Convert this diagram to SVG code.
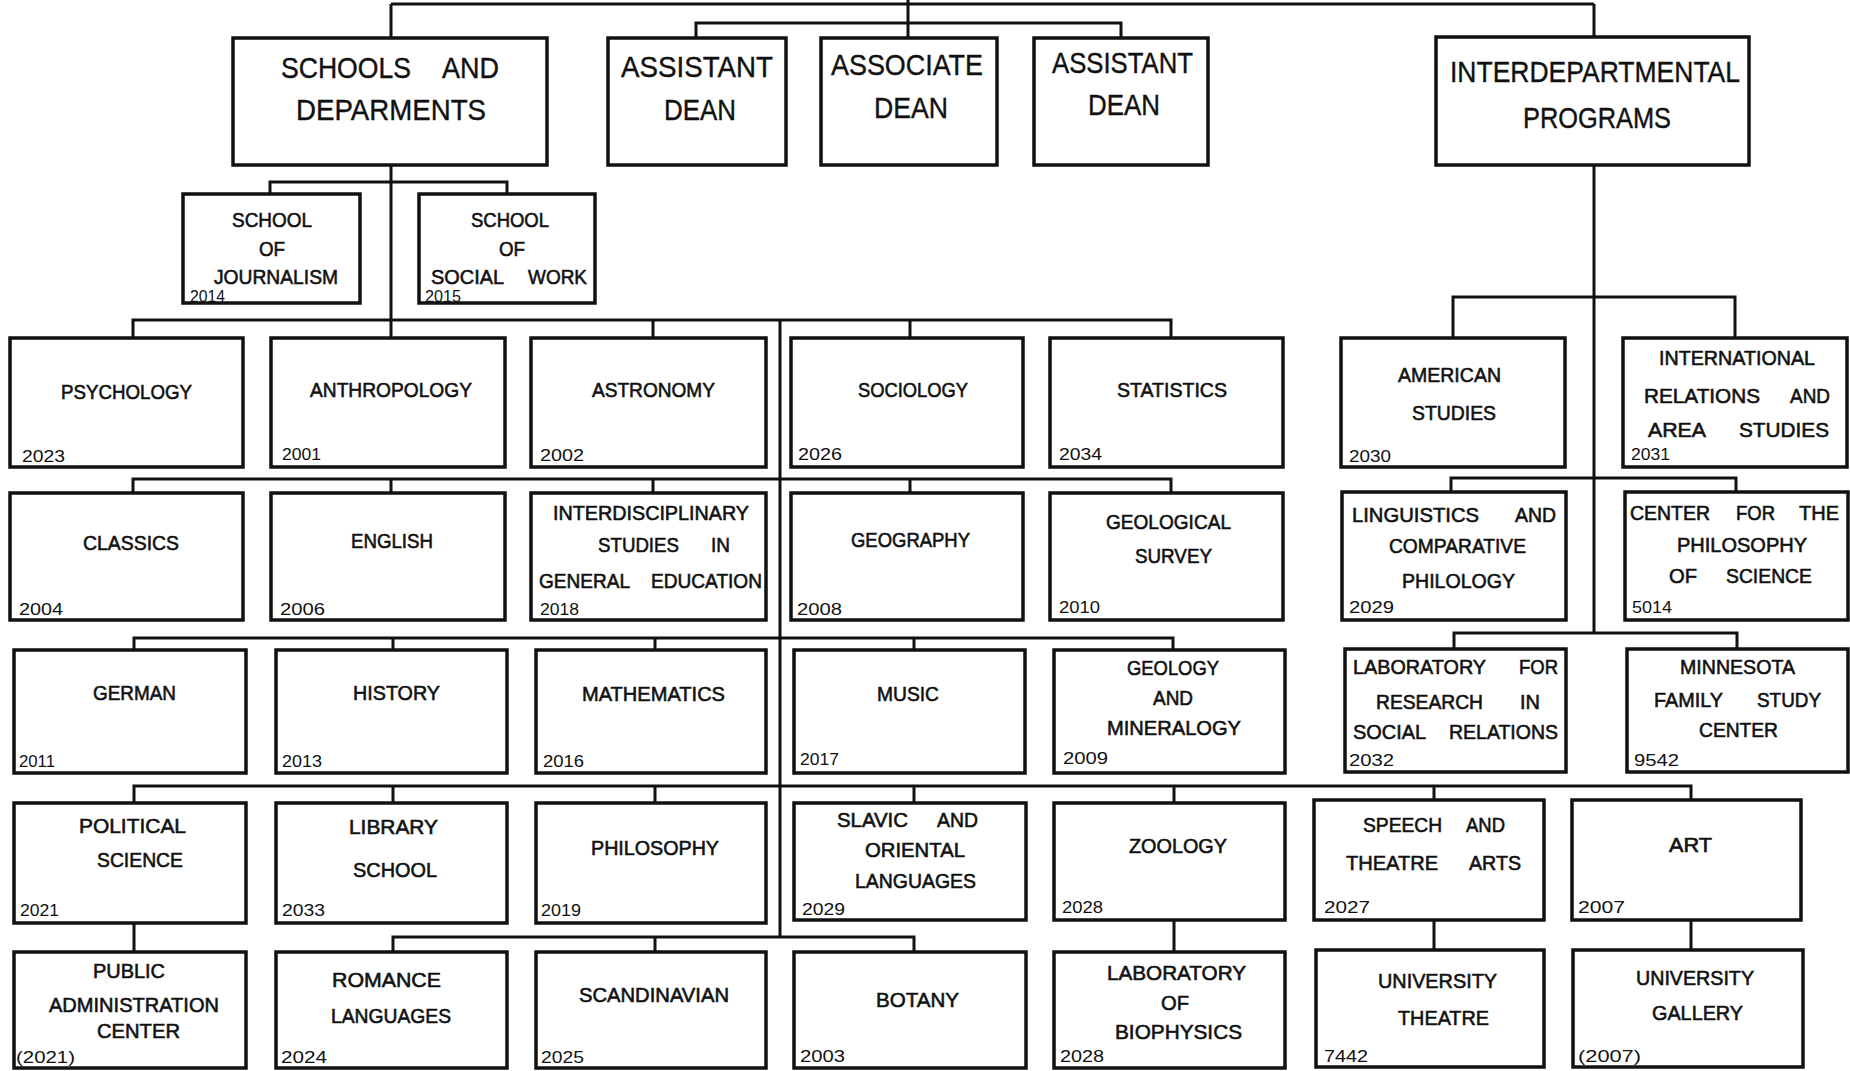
<svg xmlns="http://www.w3.org/2000/svg" width="1850" height="1071" viewBox="0 0 1850 1071">
<style>
.b{fill:#fff;stroke:#111;stroke-width:3.5}
.c{fill:none;stroke:#111;stroke-width:3}
text{font-family:"Liberation Sans",Arial,sans-serif;fill:#111}
.l{font-size:21px;stroke:#111;stroke-width:0.6}
.h{font-size:30px;stroke:#111;stroke-width:0.4}
.n{font-size:16px}
</style>
<rect width="1850" height="1071" fill="#fff"/>
<g id="connectors">
<path class="c" d="M391,4 H1594 M908,0 V38 M696,38 V23 H1121 V38 M391,4 V38 M1594,4 V37"/>
<path class="c" d="M391,165 V338 M270,194 V182 H507 V194"/>
<path class="c" d="M133,338 V320 H1171 V338 M653,320 V338 M910,320 V338 M780,320 V937"/>
<path class="c" d="M133,493 V479 H1171 V493 M391,479 V493 M653,479 V493 M910,479 V493"/>
<path class="c" d="M134,650 V638 H1173 V650 M393,638 V650 M655,638 V650 M914,638 V650"/>
<path class="c" d="M134,803 V786 H1691 V800 M393,786 V803 M655,786 V803 M914,786 V803 M1174,786 V803 M1434,786 V800"/>
<path class="c" d="M393,952 V937 H914 V952 M655,937 V952"/>
<path class="c" d="M134,923 V952 M1174,920 V952 M1434,920 V950 M1691,920 V950"/>
<path class="c" d="M1594,165 V633 M1453,338 V297 H1735 V338 M1451,492 V478 H1736 V492 M1454,649 V633 H1737 V649"/>
</g>

<g id="schools"><rect class="b" x="233" y="38" width="314" height="127"/>
<text class="h" x="281" y="78" textLength="130" lengthAdjust="spacingAndGlyphs">SCHOOLS</text>
<text class="h" x="442" y="78" textLength="57" lengthAdjust="spacingAndGlyphs">AND</text>
<text class="h" x="296" y="120" textLength="190" lengthAdjust="spacingAndGlyphs">DEPARMENTS</text></g>

<g id="asst1"><rect class="b" x="608" y="38" width="178" height="127"/>
<text class="h" x="621" y="77" textLength="152" lengthAdjust="spacingAndGlyphs">ASSISTANT</text>
<text class="h" x="664" y="120" textLength="72" lengthAdjust="spacingAndGlyphs">DEAN</text></g>

<g id="assoc"><rect class="b" x="821" y="38" width="176" height="127"/>
<text class="h" x="831" y="75" textLength="152" lengthAdjust="spacingAndGlyphs">ASSOCIATE</text>
<text class="h" x="874" y="118" textLength="74" lengthAdjust="spacingAndGlyphs">DEAN</text></g>

<g id="asst2"><rect class="b" x="1034" y="38" width="174" height="127"/>
<text class="h" x="1052" y="73" textLength="141" lengthAdjust="spacingAndGlyphs">ASSISTANT</text>
<text class="h" x="1088" y="115" textLength="72" lengthAdjust="spacingAndGlyphs">DEAN</text></g>

<g id="interdept"><rect class="b" x="1436" y="37" width="313" height="128"/>
<text class="h" x="1450" y="82" textLength="290" lengthAdjust="spacingAndGlyphs">INTERDEPARTMENTAL</text>
<text class="h" x="1523" y="128" textLength="148" lengthAdjust="spacingAndGlyphs">PROGRAMS</text></g>

<g id="journalism"><rect class="b" x="183" y="194" width="177" height="109"/>
<text class="l" x="232" y="227" textLength="80" lengthAdjust="spacingAndGlyphs">SCHOOL</text>
<text class="l" x="259" y="256" textLength="26" lengthAdjust="spacingAndGlyphs">OF</text>
<text class="l" x="214" y="284" textLength="124" lengthAdjust="spacingAndGlyphs">JOURNALISM</text>
<text class="n" x="190" y="301.5" font-size="14" textLength="35" lengthAdjust="spacingAndGlyphs">2014</text></g>

<g id="socialwork"><rect class="b" x="419" y="194" width="176" height="109"/>
<text class="l" x="471" y="227" textLength="78" lengthAdjust="spacingAndGlyphs">SCHOOL</text>
<text class="l" x="499" y="256" textLength="26" lengthAdjust="spacingAndGlyphs">OF</text>
<text class="l" x="431" y="284" textLength="73" lengthAdjust="spacingAndGlyphs">SOCIAL</text>
<text class="l" x="528" y="284" textLength="59" lengthAdjust="spacingAndGlyphs">WORK</text>
<text class="n" x="425" y="301.5" font-size="14" textLength="36" lengthAdjust="spacingAndGlyphs">2015</text></g>

<g id="psychology"><rect class="b" x="10" y="338" width="233" height="129"/>
<text class="l" x="61" y="399" textLength="131" lengthAdjust="spacingAndGlyphs">PSYCHOLOGY</text>
<text class="n" x="22" y="462" textLength="43" lengthAdjust="spacingAndGlyphs">2023</text></g>

<g id="anthropology"><rect class="b" x="271" y="338" width="234" height="129"/>
<text class="l" x="310" y="397" textLength="162" lengthAdjust="spacingAndGlyphs">ANTHROPOLOGY</text>
<text class="n" x="282" y="460" textLength="39" lengthAdjust="spacingAndGlyphs">2001</text></g>

<g id="astronomy"><rect class="b" x="531" y="338" width="235" height="129"/>
<text class="l" x="592" y="397" textLength="123" lengthAdjust="spacingAndGlyphs">ASTRONOMY</text>
<text class="n" x="540" y="461" textLength="44" lengthAdjust="spacingAndGlyphs">2002</text></g>

<g id="sociology"><rect class="b" x="791" y="338" width="232" height="129"/>
<text class="l" x="858" y="397" textLength="110" lengthAdjust="spacingAndGlyphs">SOCIOLOGY</text>
<text class="n" x="798" y="460" textLength="44" lengthAdjust="spacingAndGlyphs">2026</text></g>

<g id="statistics"><rect class="b" x="1050" y="338" width="233" height="129"/>
<text class="l" x="1117" y="397" textLength="110" lengthAdjust="spacingAndGlyphs">STATISTICS</text>
<text class="n" x="1059" y="460" textLength="43" lengthAdjust="spacingAndGlyphs">2034</text></g>

<g id="american"><rect class="b" x="1341" y="338" width="224" height="129"/>
<text class="l" x="1398" y="382" textLength="103" lengthAdjust="spacingAndGlyphs">AMERICAN</text>
<text class="l" x="1412" y="420" textLength="84" lengthAdjust="spacingAndGlyphs">STUDIES</text>
<text class="n" x="1349" y="462" textLength="42" lengthAdjust="spacingAndGlyphs">2030</text></g>

<g id="international"><rect class="b" x="1623" y="338" width="224" height="129"/>
<text class="l" x="1659" y="365" textLength="156" lengthAdjust="spacingAndGlyphs">INTERNATIONAL</text>
<text class="l" x="1644" y="403" textLength="116" lengthAdjust="spacingAndGlyphs">RELATIONS</text>
<text class="l" x="1790" y="403" textLength="40" lengthAdjust="spacingAndGlyphs">AND</text>
<text class="l" x="1648" y="437" textLength="58" lengthAdjust="spacingAndGlyphs">AREA</text>
<text class="l" x="1739" y="437" textLength="90" lengthAdjust="spacingAndGlyphs">STUDIES</text>
<text class="n" x="1631" y="460" textLength="39" lengthAdjust="spacingAndGlyphs">2031</text></g>

<g id="classics"><rect class="b" x="10" y="493" width="233" height="127"/>
<text class="l" x="83" y="550" textLength="96" lengthAdjust="spacingAndGlyphs">CLASSICS</text>
<text class="n" x="19" y="615" textLength="44" lengthAdjust="spacingAndGlyphs">2004</text></g>

<g id="english"><rect class="b" x="271" y="493" width="234" height="127"/>
<text class="l" x="351" y="548" textLength="82" lengthAdjust="spacingAndGlyphs">ENGLISH</text>
<text class="n" x="280" y="615" textLength="45" lengthAdjust="spacingAndGlyphs">2006</text></g>

<g id="interdisciplinary"><rect class="b" x="531" y="493" width="235" height="127"/>
<text class="l" x="553" y="520" textLength="196" lengthAdjust="spacingAndGlyphs">INTERDISCIPLINARY</text>
<text class="l" x="598" y="552" textLength="81" lengthAdjust="spacingAndGlyphs">STUDIES</text>
<text class="l" x="711" y="552" textLength="19" lengthAdjust="spacingAndGlyphs">IN</text>
<text class="l" x="539" y="588" textLength="91" lengthAdjust="spacingAndGlyphs">GENERAL</text>
<text class="l" x="651" y="588" textLength="111" lengthAdjust="spacingAndGlyphs">EDUCATION</text>
<text class="n" x="540" y="615" textLength="39" lengthAdjust="spacingAndGlyphs">2018</text></g>

<g id="geography"><rect class="b" x="791" y="493" width="232" height="127"/>
<text class="l" x="851" y="547" textLength="119" lengthAdjust="spacingAndGlyphs">GEOGRAPHY</text>
<text class="n" x="797" y="615" textLength="45" lengthAdjust="spacingAndGlyphs">2008</text></g>

<g id="geosurvey"><rect class="b" x="1050" y="493" width="233" height="127"/>
<text class="l" x="1106" y="529" textLength="125" lengthAdjust="spacingAndGlyphs">GEOLOGICAL</text>
<text class="l" x="1135" y="563" textLength="77" lengthAdjust="spacingAndGlyphs">SURVEY</text>
<text class="n" x="1059" y="613" textLength="41" lengthAdjust="spacingAndGlyphs">2010</text></g>

<g id="linguistics"><rect class="b" x="1342" y="492" width="224" height="128"/>
<text class="l" x="1352" y="522" textLength="127" lengthAdjust="spacingAndGlyphs">LINGUISTICS</text>
<text class="l" x="1515" y="522" textLength="41" lengthAdjust="spacingAndGlyphs">AND</text>
<text class="l" x="1389" y="553" textLength="137" lengthAdjust="spacingAndGlyphs">COMPARATIVE</text>
<text class="l" x="1402" y="588" textLength="113" lengthAdjust="spacingAndGlyphs">PHILOLOGY</text>
<text class="n" x="1349" y="613" textLength="45" lengthAdjust="spacingAndGlyphs">2029</text></g>

<g id="philscience"><rect class="b" x="1625" y="492" width="223" height="128"/>
<text class="l" x="1630" y="520" textLength="80" lengthAdjust="spacingAndGlyphs">CENTER</text>
<text class="l" x="1736" y="520" textLength="39" lengthAdjust="spacingAndGlyphs">FOR</text>
<text class="l" x="1799" y="520" textLength="40" lengthAdjust="spacingAndGlyphs">THE</text>
<text class="l" x="1677" y="552" textLength="130" lengthAdjust="spacingAndGlyphs">PHILOSOPHY</text>
<text class="l" x="1669" y="583" textLength="28" lengthAdjust="spacingAndGlyphs">OF</text>
<text class="l" x="1726" y="583" textLength="86" lengthAdjust="spacingAndGlyphs">SCIENCE</text>
<text class="n" x="1632" y="613" textLength="40" lengthAdjust="spacingAndGlyphs">5014</text></g>

<g id="german"><rect class="b" x="14" y="650" width="232" height="123"/>
<text class="l" x="93" y="700" textLength="83" lengthAdjust="spacingAndGlyphs">GERMAN</text>
<text class="n" x="19" y="767" textLength="36" lengthAdjust="spacingAndGlyphs">2011</text></g>

<g id="history"><rect class="b" x="276" y="650" width="231" height="123"/>
<text class="l" x="353" y="700" textLength="87" lengthAdjust="spacingAndGlyphs">HISTORY</text>
<text class="n" x="282" y="767" textLength="40" lengthAdjust="spacingAndGlyphs">2013</text></g>

<g id="mathematics"><rect class="b" x="536" y="650" width="230" height="123"/>
<text class="l" x="582" y="701" textLength="143" lengthAdjust="spacingAndGlyphs">MATHEMATICS</text>
<text class="n" x="543" y="767" textLength="41" lengthAdjust="spacingAndGlyphs">2016</text></g>

<g id="music"><rect class="b" x="794" y="650" width="231" height="123"/>
<text class="l" x="877" y="701" textLength="62" lengthAdjust="spacingAndGlyphs">MUSIC</text>
<text class="n" x="800" y="765" textLength="39" lengthAdjust="spacingAndGlyphs">2017</text></g>

<g id="geology"><rect class="b" x="1054" y="650" width="231" height="123"/>
<text class="l" x="1127" y="675" textLength="92" lengthAdjust="spacingAndGlyphs">GEOLOGY</text>
<text class="l" x="1153" y="705" textLength="40" lengthAdjust="spacingAndGlyphs">AND</text>
<text class="l" x="1107" y="735" textLength="134" lengthAdjust="spacingAndGlyphs">MINERALOGY</text>
<text class="n" x="1063" y="764" textLength="45" lengthAdjust="spacingAndGlyphs">2009</text></g>

<g id="labresearch"><rect class="b" x="1345" y="649" width="221" height="123"/>
<text class="l" x="1353" y="674" textLength="133" lengthAdjust="spacingAndGlyphs">LABORATORY</text>
<text class="l" x="1519" y="674" textLength="39" lengthAdjust="spacingAndGlyphs">FOR</text>
<text class="l" x="1376" y="709" textLength="107" lengthAdjust="spacingAndGlyphs">RESEARCH</text>
<text class="l" x="1520" y="709" textLength="20" lengthAdjust="spacingAndGlyphs">IN</text>
<text class="l" x="1353" y="739" textLength="73" lengthAdjust="spacingAndGlyphs">SOCIAL</text>
<text class="l" x="1449" y="739" textLength="109" lengthAdjust="spacingAndGlyphs">RELATIONS</text>
<text class="n" x="1349" y="766" textLength="45" lengthAdjust="spacingAndGlyphs">2032</text></g>

<g id="minnesota"><rect class="b" x="1627" y="649" width="221" height="123"/>
<text class="l" x="1680" y="674" textLength="115" lengthAdjust="spacingAndGlyphs">MINNESOTA</text>
<text class="l" x="1654" y="707" textLength="69" lengthAdjust="spacingAndGlyphs">FAMILY</text>
<text class="l" x="1757" y="707" textLength="64" lengthAdjust="spacingAndGlyphs">STUDY</text>
<text class="l" x="1699" y="737" textLength="79" lengthAdjust="spacingAndGlyphs">CENTER</text>
<text class="n" x="1634" y="766" textLength="45" lengthAdjust="spacingAndGlyphs">9542</text></g>

<g id="polisci"><rect class="b" x="14" y="803" width="232" height="120"/>
<text class="l" x="79" y="833" textLength="107" lengthAdjust="spacingAndGlyphs">POLITICAL</text>
<text class="l" x="97" y="867" textLength="86" lengthAdjust="spacingAndGlyphs">SCIENCE</text>
<text class="n" x="20" y="916" textLength="39" lengthAdjust="spacingAndGlyphs">2021</text></g>

<g id="library"><rect class="b" x="276" y="803" width="231" height="120"/>
<text class="l" x="349" y="834" textLength="89" lengthAdjust="spacingAndGlyphs">LIBRARY</text>
<text class="l" x="353" y="877" textLength="84" lengthAdjust="spacingAndGlyphs">SCHOOL</text>
<text class="n" x="282" y="916" textLength="43" lengthAdjust="spacingAndGlyphs">2033</text></g>

<g id="philosophy"><rect class="b" x="536" y="803" width="230" height="120"/>
<text class="l" x="591" y="855" textLength="128" lengthAdjust="spacingAndGlyphs">PHILOSOPHY</text>
<text class="n" x="541" y="916" textLength="40" lengthAdjust="spacingAndGlyphs">2019</text></g>

<g id="slavic"><rect class="b" x="794" y="803" width="232" height="117"/>
<text class="l" x="837" y="827" textLength="71" lengthAdjust="spacingAndGlyphs">SLAVIC</text>
<text class="l" x="937" y="827" textLength="41" lengthAdjust="spacingAndGlyphs">AND</text>
<text class="l" x="865" y="857" textLength="100" lengthAdjust="spacingAndGlyphs">ORIENTAL</text>
<text class="l" x="855" y="888" textLength="121" lengthAdjust="spacingAndGlyphs">LANGUAGES</text>
<text class="n" x="802" y="915" textLength="43" lengthAdjust="spacingAndGlyphs">2029</text></g>

<g id="zoology"><rect class="b" x="1054" y="803" width="231" height="117"/>
<text class="l" x="1129" y="853" textLength="98" lengthAdjust="spacingAndGlyphs">ZOOLOGY</text>
<text class="n" x="1062" y="913" textLength="41" lengthAdjust="spacingAndGlyphs">2028</text></g>

<g id="speech"><rect class="b" x="1314" y="800" width="230" height="120"/>
<text class="l" x="1363" y="832" textLength="79" lengthAdjust="spacingAndGlyphs">SPEECH</text>
<text class="l" x="1466" y="832" textLength="39" lengthAdjust="spacingAndGlyphs">AND</text>
<text class="l" x="1346" y="870" textLength="92" lengthAdjust="spacingAndGlyphs">THEATRE</text>
<text class="l" x="1469" y="870" textLength="52" lengthAdjust="spacingAndGlyphs">ARTS</text>
<text class="n" x="1324" y="913" textLength="46" lengthAdjust="spacingAndGlyphs">2027</text></g>

<g id="art"><rect class="b" x="1572" y="800" width="229" height="120"/>
<text class="l" x="1669" y="852" textLength="43" lengthAdjust="spacingAndGlyphs">ART</text>
<text class="n" x="1578" y="913" textLength="47" lengthAdjust="spacingAndGlyphs">2007</text></g>

<g id="pubadmin"><rect class="b" x="14" y="952" width="232" height="116"/>
<text class="l" x="93" y="978" textLength="72" lengthAdjust="spacingAndGlyphs">PUBLIC</text>
<text class="l" x="49" y="1012" textLength="170" lengthAdjust="spacingAndGlyphs">ADMINISTRATION</text>
<text class="l" x="97" y="1038" textLength="83" lengthAdjust="spacingAndGlyphs">CENTER</text>
<text class="n" x="16" y="1063" textLength="59" lengthAdjust="spacingAndGlyphs">(2021)</text></g>

<g id="romance"><rect class="b" x="276" y="952" width="231" height="116"/>
<text class="l" x="332" y="987" textLength="109" lengthAdjust="spacingAndGlyphs">ROMANCE</text>
<text class="l" x="331" y="1023" textLength="120" lengthAdjust="spacingAndGlyphs">LANGUAGES</text>
<text class="n" x="281" y="1063" textLength="46" lengthAdjust="spacingAndGlyphs">2024</text></g>

<g id="scandinavian"><rect class="b" x="536" y="952" width="230" height="116"/>
<text class="l" x="579" y="1002" textLength="150" lengthAdjust="spacingAndGlyphs">SCANDINAVIAN</text>
<text class="n" x="541" y="1063" textLength="43" lengthAdjust="spacingAndGlyphs">2025</text></g>

<g id="botany"><rect class="b" x="794" y="952" width="232" height="116"/>
<text class="l" x="876" y="1007" textLength="83" lengthAdjust="spacingAndGlyphs">BOTANY</text>
<text class="n" x="800" y="1062" textLength="45" lengthAdjust="spacingAndGlyphs">2003</text></g>

<g id="biophysics"><rect class="b" x="1054" y="952" width="231" height="116"/>
<text class="l" x="1107" y="980" textLength="139" lengthAdjust="spacingAndGlyphs">LABORATORY</text>
<text class="l" x="1161" y="1010" textLength="28" lengthAdjust="spacingAndGlyphs">OF</text>
<text class="l" x="1115" y="1039" textLength="127" lengthAdjust="spacingAndGlyphs">BIOPHYSICS</text>
<text class="n" x="1060" y="1062" textLength="44" lengthAdjust="spacingAndGlyphs">2028</text></g>

<g id="univtheatre"><rect class="b" x="1316" y="950" width="228" height="117"/>
<text class="l" x="1378" y="988" textLength="119" lengthAdjust="spacingAndGlyphs">UNIVERSITY</text>
<text class="l" x="1398" y="1025" textLength="91" lengthAdjust="spacingAndGlyphs">THEATRE</text>
<text class="n" x="1324" y="1062" textLength="44" lengthAdjust="spacingAndGlyphs">7442</text></g>

<g id="gallery"><rect class="b" x="1573" y="950" width="230" height="117"/>
<text class="l" x="1636" y="985" textLength="118" lengthAdjust="spacingAndGlyphs">UNIVERSITY</text>
<text class="l" x="1652" y="1020" textLength="91" lengthAdjust="spacingAndGlyphs">GALLERY</text>
<text class="n" x="1578" y="1062" textLength="63" lengthAdjust="spacingAndGlyphs">(2007)</text></g>
</svg>
